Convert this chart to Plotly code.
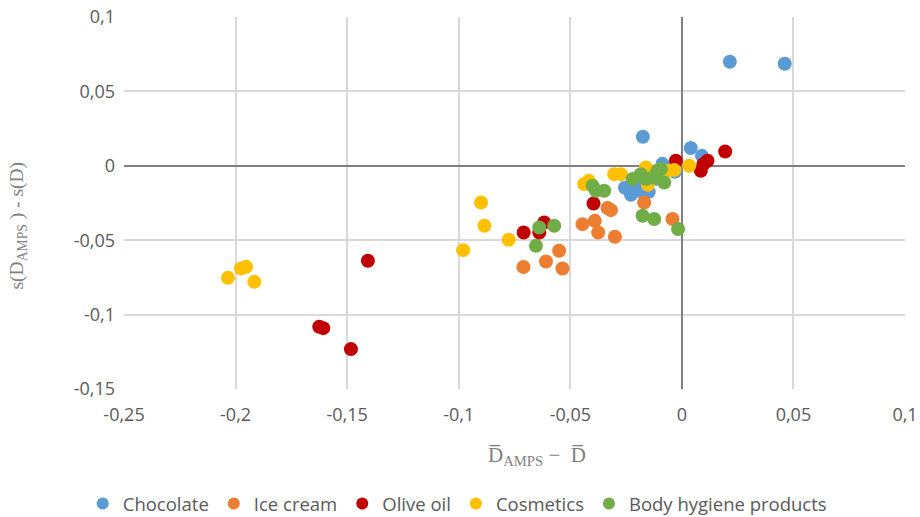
import plotly.graph_objects as go

# ---- data ----
choc_x = [0.0215, 0.0461, -0.0175, 0.0040, 0.0090, -0.0087, -0.0255, -0.0228, -0.0193, -0.0148, -0.0202, -0.0116, -0.0031]
choc_y = [0.0699, 0.0686, 0.0195, 0.0120, 0.0067, 0.0013, -0.0148, -0.0195, -0.0168, -0.0175, -0.0121, -0.0087, -0.0040]

ice_x = [-0.0169, -0.0333, -0.0318, -0.0445, -0.0390, -0.0375, -0.0300, -0.0042, -0.0710, -0.0609, -0.0550, -0.0535, -0.0154]
ice_y = [-0.0247, -0.0284, -0.0298, -0.0392, -0.0370, -0.0448, -0.0477, -0.0358, -0.0680, -0.0643, -0.0571, -0.0690, -0.0112]

olive_x = [0.0194, 0.0115, 0.0097, 0.0085, -0.0027, -0.0396, -0.0617, -0.0639, -0.0709, -0.1407, -0.1625, -0.1607, -0.1483]
olive_y = [0.0096, 0.0034, 0.0011, -0.0034, 0.0034, -0.0253, -0.0381, -0.0448, -0.0448, -0.0638, -0.1082, -0.1091, -0.1232]

cosm_x = [-0.2034, -0.1976, -0.1953, -0.1916, -0.0900, -0.0885, -0.0980, -0.0776, -0.0438, -0.0417, -0.0303, -0.0273, -0.0161, -0.0064, -0.0034, 0.0033, -0.0152]
cosm_y = [-0.0753, -0.0690, -0.0679, -0.0780, -0.0247, -0.0403, -0.0567, -0.0497, -0.0123, -0.0101, -0.0056, -0.0056, -0.0011, -0.0034, -0.0029, 0.0000, -0.0128]

body_x = [-0.0400, -0.0385, -0.0348, -0.0221, -0.0184, -0.0161, -0.0131, -0.0109, -0.0094, -0.0079, -0.0176, -0.0124, -0.0017, -0.0639, -0.0572, -0.0654]
body_y = [-0.0134, -0.0168, -0.0168, -0.0089, -0.0056, -0.0089, -0.0079, -0.0034, -0.0022, -0.0112, -0.0336, -0.0358, -0.0425, -0.0415, -0.0403, -0.0538]

series_names = ["Chocolate", "Ice cream", "Olive oil", "Cosmetics", "Body hygiene products"]
series_colors = ["#5B9BD5", "#ED7D31", "#C00000", "#FFC000", "#70AD47"]

x_tickvals = [-0.25, -0.2, -0.15, -0.1, -0.05, 0, 0.05, 0.1]
x_ticktext = ["-0,25", "-0,2", "-0,15", "-0,1", "-0,05", "0", "0,05", "0,1"]
y_tickvals = [-0.15, -0.1, -0.05, 0, 0.05, 0.1]
y_ticktext = ["-0,15", "-0,1", "-0,05", "0", "0,05", "0,1"]

xs = [choc_x, ice_x, olive_x, cosm_x, body_x]
ys = [choc_y, ice_y, olive_y, cosm_y, body_y]

fig = go.Figure()
for name, col, x, y in zip(series_names, series_colors, xs, ys):
    fig.add_trace(go.Scatter(x=x, y=y, mode="markers", name=name,
                             marker=dict(color=col, size=14, line=dict(width=0))))

tickfont = dict(family="Open Sans, sans-serif", size=18, color="#595959")
fig.update_layout(
    width=920, height=517,
    margin=dict(l=124, r=15, t=17, b=128),
    paper_bgcolor="white", plot_bgcolor="white",
    showlegend=True,
    legend=dict(orientation="h", xref="container", x=0.497, xanchor="center",
                yref="container", y=0.025, yanchor="middle",
                font=dict(family="Open Sans, sans-serif", size=18.5, color="#595959"),
                itemsizing="constant", tracegroupgap=0),
    xaxis=dict(range=[-0.25, 0.1], tickvals=x_tickvals, ticktext=x_ticktext,
               showgrid=True, gridcolor="#d9d9d9", gridwidth=1.5,
               zeroline=True, zerolinecolor="#808080", zerolinewidth=1.5,
               showline=False, ticks="", tickfont=tickfont, ticklabelstandoff=13,
               automargin=False),
    yaxis=dict(range=[-0.15, 0.1], tickvals=y_tickvals, ticktext=y_ticktext,
               showgrid=True, gridcolor="#d9d9d9", gridwidth=1.5,
               zeroline=True, zerolinecolor="#808080", zerolinewidth=1.5,
               showline=False, ticks="", tickfont=tickfont, ticklabelstandoff=8,
               automargin=False),
    annotations=[
        dict(text="D\u0305<sub>AMPS</sub> \u2212 \u00a0D\u0305", xref="paper", yref="paper",
             x=0.529, y=-0.18, xanchor="center", yanchor="middle", showarrow=False,
             font=dict(family="Liberation Serif, Times New Roman, serif", size=21, color="#7f7f7f")),
        dict(text="s(D<sub>AMPS</sub> ) - s(D)", xref="paper", yref="paper",
             x=-0.1355, y=0.44, xanchor="center", yanchor="middle", showarrow=False, textangle=-90,
             font=dict(family="Liberation Serif, Times New Roman, serif", size=19.5, color="#7f7f7f")),
    ],
)

fig.write_html("out.html", config={"displayModeBar": False},
               post_script="document.body.style.margin='0';")
